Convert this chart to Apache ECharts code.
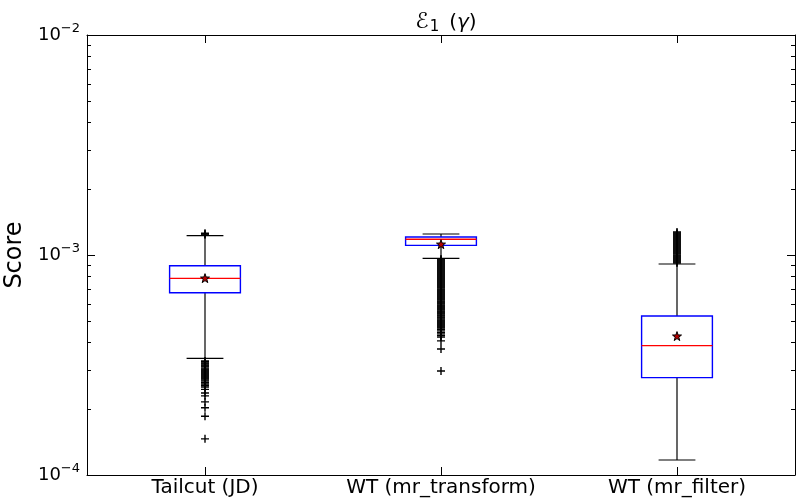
<!DOCTYPE html>
<html>
<head>
<meta charset="utf-8">
<script src="https://cdn.jsdelivr.net/npm/echarts@6/dist/echarts.min.js"></script>
<style>
  html, body { margin: 0; padding: 0; background: #fff; }
  #box { width: 796px; height: 501px; }
</style>
</head>
<body>
<div id="box"></div>
<script>
// categories and box statistics
var categories = ['Tailcut (JD)', 'WT (mr_transform)', 'WT (mr_filter)'];
var whiskerLow  = [3.39e-4, 9.66e-4, 1.17e-4];
var q1          = [6.74e-4, 1.106e-3, 2.77e-4];
var median      = [7.83e-4, 1.179e-3, 3.87e-4];
var q3          = [8.94e-4, 1.208e-3, 5.28e-4];
var whiskerHigh = [1.225e-3, 1.246e-3, 9.10e-4];
var means       = [7.85e-4, 1.12e-3, 4.28e-4];

// outliers per box
var outTailcut = [1.256e-3, 1.245e-3, 1.235e-3,
  3.30e-4, 3.27e-4, 3.23e-4, 3.20e-4, 3.16e-4, 3.13e-4, 3.10e-4, 3.06e-4,
  3.03e-4, 3.00e-4, 2.97e-4, 2.94e-4, 2.91e-4, 2.88e-4, 2.85e-4, 2.82e-4,
  2.79e-4, 2.76e-4, 2.73e-4, 2.70e-4, 2.67e-4, 2.63e-4, 2.59e-4, 2.55e-4,
  2.51e-4, 2.45e-4, 2.36e-4, 2.29e-4, 2.15e-4, 2.02e-4, 1.85e-4, 1.46e-4];
var outTransform = [9.59e-4, 9.49e-4, 9.39e-4, 9.29e-4, 9.19e-4, 9.10e-4,
  9.00e-4, 8.91e-4, 8.82e-4, 8.73e-4, 8.64e-4, 8.55e-4, 8.46e-4, 8.37e-4,
  8.28e-4, 8.20e-4, 8.11e-4, 8.03e-4, 7.94e-4, 7.86e-4, 7.78e-4, 7.70e-4,
  7.62e-4, 7.54e-4, 7.46e-4, 7.38e-4, 7.30e-4, 7.23e-4, 7.15e-4, 7.08e-4,
  7.00e-4, 6.93e-4, 6.86e-4, 6.79e-4, 6.72e-4, 6.65e-4, 6.58e-4, 6.51e-4,
  6.44e-4, 6.38e-4, 6.31e-4, 6.25e-4, 6.18e-4, 6.11e-4, 6.05e-4, 5.99e-4,
  5.92e-4, 5.86e-4, 5.80e-4, 5.74e-4, 5.68e-4, 5.62e-4, 5.56e-4, 5.51e-4,
  5.45e-4, 5.39e-4, 5.33e-4, 5.28e-4, 5.22e-4, 5.17e-4, 5.11e-4, 5.06e-4,
  5.01e-4, 4.96e-4, 4.91e-4, 4.86e-4, 4.81e-4, 4.76e-4, 4.71e-4, 4.66e-4,
  4.59e-4, 4.52e-4, 4.45e-4, 4.38e-4, 4.31e-4, 4.24e-4, 4.07e-4, 3.74e-4,
  2.97e-4];
var outFilter = [9.19e-4, 9.29e-4, 9.39e-4, 9.49e-4, 9.59e-4, 9.69e-4,
  9.79e-4, 9.89e-4, 9.99e-4, 1.01e-3, 1.021e-3, 1.032e-3, 1.043e-3, 1.054e-3,
  1.065e-3, 1.076e-3, 1.087e-3, 1.099e-3, 1.110e-3, 1.122e-3, 1.134e-3,
  1.146e-3, 1.158e-3, 1.170e-3, 1.182e-3, 1.194e-3, 1.207e-3, 1.220e-3,
  1.233e-3, 1.246e-3, 1.259e-3, 1.272e-3];

var majorTicks = [1e-4, 1e-3, 1e-2];
var minorTicks = [2e-4, 3e-4, 4e-4, 5e-4, 6e-4, 7e-4, 8e-4, 9e-4,
                  2e-3, 3e-3, 4e-3, 5e-3, 6e-3, 7e-3, 8e-3, 9e-3];

var boxData = categories.map(function (c, i) {
  return [i, whiskerLow[i], q1[i], median[i], q3[i], whiskerHigh[i]];
});
var outlierData = [];
[outTailcut, outTransform, outFilter].forEach(function (arr, i) {
  arr.forEach(function (v) { outlierData.push([i, v]); });
});
var meanData = means.map(function (v, i) { return [i, v]; });

var font = 'DejaVu Sans';
var plus = 'path://M5,0L5,10M0,5L10,5';
var star = 'path://M0,-10L2.35,-3.24L9.51,-3.09L3.8,1.24L5.88,8.09L0,4L-5.88,8.09L-3.8,1.24L-9.51,-3.09L-2.35,-3.24Z';

function logLabel(v) {
  var e = Math.round(Math.log(v) / Math.LN10);
  return '{b|10}{s|' + (e < 0 ? '\u2212' : '') + Math.abs(e) + '}';
}

function yAx(pos, opts) {
  var a = {
    type: 'log', logBase: 10, min: 1e-4, max: 1e-2, position: pos,
    axisLine: { show: false },
    axisTick: { show: true, inside: true, length: 8, customValues: majorTicks,
                lineStyle: { color: '#000', width: 1 } },
    axisLabel: { show: false },
    splitLine: { show: false }
  };
  return Object.assign(a, opts || {});
}

var chart = echarts.init(document.getElementById('box'));
chart.setOption({
  animation: false,
  backgroundColor: '#fff',
  title: {
    text: '{e|\u2130}{sub|1}{t|\u2002(}{g|\u03b3}{t|)}',
    left: 441, top: 5, textAlign: 'center',
    textStyle: {
      fontWeight: 'normal', fontSize: 20,
      rich: {
        e: { fontFamily: font, fontSize: 22, fontWeight: 'normal', color: '#000' },
        sub: { fontFamily: font, fontSize: 15, fontWeight: 'normal', color: '#000', padding: [10, 0, 0, 1] },
        t: { fontFamily: font, fontSize: 20, fontWeight: 'normal', color: '#000' },
        g: { fontFamily: font, fontSize: 20, fontWeight: 'normal', fontStyle: 'italic', color: '#000' }
      }
    }
  },
  grid: { left: 87, right: 1, top: 35, bottom: 26, containLabel: false, outerBoundsMode: 'none' },
  xAxis: [{
    type: 'category', data: categories, position: 'bottom',
    axisLine: { show: true, lineStyle: { color: '#000', width: 1 } },
    axisTick: { show: true, inside: true, length: 8, alignWithLabel: true,
                lineStyle: { color: '#000' } },
    axisLabel: { fontFamily: font, fontSize: 20, color: '#000', margin: 3, interval: 0,
                 hideOverlap: false },
    splitLine: { show: false }
  }, {
    type: 'category', data: categories, position: 'top',
    axisLine: { show: true, lineStyle: { color: '#000', width: 1 } },
    axisTick: { show: true, inside: true, length: 8, alignWithLabel: true,
                lineStyle: { color: '#000' } },
    axisLabel: { show: false },
    splitLine: { show: false }
  }],
  yAxis: [
    yAx('left', {
      name: 'Score', nameLocation: 'middle', nameGap: 59, nameRotate: 90,
      nameTextStyle: { fontFamily: font, fontSize: 24, color: '#000' },
      axisLine: { show: true, lineStyle: { color: '#000', width: 1 } },
      axisLabel: {
        show: true, customValues: majorTicks, margin: 7,
        formatter: logLabel,
        rich: {
          b: { fontFamily: font, fontSize: 18, color: '#000' },
          s: { fontFamily: font, fontSize: 13, color: '#000', padding: [0, 0, 13, 0] }
        }
      }
    }),
    yAx('right', {
      axisLine: { show: true, lineStyle: { color: '#000', width: 1 } }
    }),
    yAx('left', {
      axisTick: { show: true, inside: true, length: 4, customValues: minorTicks,
                  lineStyle: { color: '#000', width: 1 } }
    }),
    yAx('right', {
      axisTick: { show: true, inside: true, length: 4, customValues: minorTicks,
                  lineStyle: { color: '#000', width: 1 } }
    })
  ],
  series: [{
    type: 'custom',
    data: boxData,
    encode: { x: 0, y: [1, 2, 3, 4, 5] },
    renderItem: function (params, api) {
      var i = api.value(0);
      var band = api.size([1, 0])[0];
      var half = band * 0.15;
      var cap = band * 0.078;
      var pLow = api.coord([i, api.value(1)]);
      var pQ1 = api.coord([i, api.value(2)]);
      var pMed = api.coord([i, api.value(3)]);
      var pQ3 = api.coord([i, api.value(4)]);
      var pHigh = api.coord([i, api.value(5)]);
      var x = pQ1[0];
      var black = { stroke: '#000', lineWidth: 1.2, fill: null };
      return {
        type: 'group',
        children: [
          { type: 'line', shape: { x1: x, y1: pLow[1], x2: x, y2: pQ1[1] }, style: black },
          { type: 'line', shape: { x1: x, y1: pQ3[1], x2: x, y2: pHigh[1] }, style: black },
          { type: 'line', shape: { x1: x - cap, y1: pLow[1], x2: x + cap, y2: pLow[1] }, style: black },
          { type: 'line', shape: { x1: x - cap, y1: pHigh[1], x2: x + cap, y2: pHigh[1] }, style: black },
          { type: 'rect', shape: { x: x - half, y: pQ3[1], width: half * 2, height: pQ1[1] - pQ3[1] },
            style: { stroke: '#0000ff', lineWidth: 1.4, fill: null } },
          { type: 'line', shape: { x1: x - half, y1: pMed[1], x2: x + half, y2: pMed[1] },
            style: { stroke: '#ff0000', lineWidth: 1.3 } }
        ]
      };
    }
  }, {
    type: 'scatter',
    data: outlierData,
    symbol: plus, symbolSize: 8,
    itemStyle: { color: 'transparent', borderColor: '#000', borderWidth: 1.4, opacity: 1 },
    emphasis: { disabled: true }
  }, {
    type: 'scatter',
    data: meanData,
    symbol: star, symbolSize: 9,
    itemStyle: { color: '#b00000', borderColor: '#000', borderWidth: 1, opacity: 1 },
    emphasis: { disabled: true }
  }]
});
</script>
</body>
</html>
